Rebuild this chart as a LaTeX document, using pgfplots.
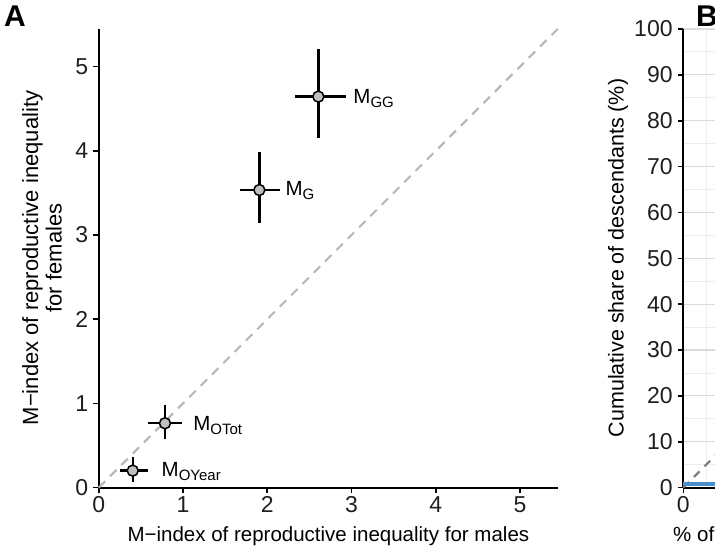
\documentclass[border=0pt]{standalone}
\usepackage{fontspec}
\setmainfont{Liberation Sans}
\usepackage{pgfplots}
\usepackage{pgfplotstable}
\pgfplotsset{compat=1.18}

\definecolor{markfill}{HTML}{BFBFBF}
\definecolor{diagA}{HTML}{B5B5B5}
\definecolor{diagB}{HTML}{7A7A7A}
\definecolor{curveblue}{HTML}{4A8FC9}
\definecolor{gridmaj}{HTML}{DADADA}
\definecolor{gridmin}{HTML}{EDEDED}

% M-index estimates with asymmetric intervals (minus / plus)
\pgfplotstableread{
x     y     xm    xp    ym    yp
2.606 4.643 0.277 0.325 0.487 0.562
1.906 3.534 0.229 0.246 0.388 0.448
0.786 0.764 0.198 0.199 0.187 0.217
0.403 0.201 0.151 0.185 0.131 0.159
}\mindex

\newcommand{\ticksize}{\fontsize{23}{27}\selectfont}
\newcommand{\labsize}{\fontsize{20.5}{24.5}\selectfont}
\newcommand{\ylabsize}{\fontsize{22}{23.5}\selectfont}
\newcommand{\Mlab}[1]{{\fontsize{20.5}{23}\selectfont M\raisebox{-4pt}{\fontsize{15}{17}\selectfont #1}}}

\pgfplotsset{
  panel/.style={
    scale only axis,
    axis lines*=left,
    axis line style={line width=2pt, black, -},
    tick align=outside,
    major tick length=5.5pt,
    minor tick length=0pt,
    tick style={line width=1.6pt, black},
    ticklabel style={font=\ticksize, text=black!88},
    /pgf/number format/assume math mode=true,
    clip=false,
  },
}

\begin{document}
\begin{tikzpicture}
\useasboundingbox (0pt,0pt) rectangle (715pt,550pt);
\begin{scope}
\clip (0pt,0pt) rectangle (715pt,550pt);

% Panel A: female vs male reproductive inequality
\begin{axis}[panel,
  at={(98.75pt,62.4pt)}, anchor=south west,
  width=459.25pt, height=458.6pt,
  xmin=0, xmax=5.45, ymin=0, ymax=5.446,
  xtick={0,...,5}, ytick={0,...,5},
  xticklabel style={inner sep=2pt, yshift=-1pt},
  yticklabel style={inner sep=2pt, xshift=-3pt},
]
\addplot[diagA, line width=2pt, dash pattern=on 9pt off 7pt] coordinates {(0,0) (5.45,5.45)};
\addplot[only marks, mark=*, mark size=5.5pt,
  mark options={fill=markfill, draw=black, line width=1.5pt},
  error bars/.cd, x dir=both, y dir=both, x explicit, y explicit,
  error mark=none, error bar style={line width=2.4pt, black}]
  table[x=x, y=y, x error plus=xp, x error minus=xm,
        y error plus=yp, y error minus=ym] {\mindex};
\node[anchor=base west, inner sep=0] at (axis cs:3.020,4.564) {\Mlab{GG}};
\node[anchor=base west, inner sep=0] at (axis cs:2.215,3.469) {\Mlab{G}};
\node[anchor=base west, inner sep=0] at (axis cs:1.120,0.676) {\Mlab{OTot}};
\node[anchor=base west, inner sep=0] at (axis cs:0.745,0.129) {\Mlab{OYear}};
\end{axis}

% axis titles of panel A
\node[anchor=base, inner sep=0, font=\labsize] at (328.4pt,9pt)
  {M−index of reproductive inequality for males};
\node[rotate=90, align=center, inner sep=0, font=\ylabsize] at (42pt,292pt)
  {M−index of reproductive inequality\\for females};

% Panel B: cumulative share of descendants
\begin{axis}[panel,
  at={(683.3pt,62.4pt)}, anchor=south west,
  width=458.6pt, height=458.6pt,
  xmin=0, xmax=100, ymin=0, ymax=100,
  xtick={0,10,...,100}, ytick={0,10,...,100},
  xticklabels={0},
  minor x tick num=1, minor y tick num=1,
  grid=both,
  major grid style={gridmaj, line width=1.1pt},
  minor grid style={gridmin, line width=0.9pt},
  xticklabel style={inner sep=2pt, yshift=-1pt},
  yticklabel style={inner sep=2pt, xshift=-3pt},
]
\addplot[diagB, line width=2pt, dash pattern=on 8pt off 7pt] coordinates {(0,0) (100,100)};
\addplot[curveblue, line width=3.5pt] coordinates {(0,0.8) (4,0.8) (8,0.8)};
\end{axis}
\node[rotate=90, inner sep=0, font=\fontsize{21.5}{24}\selectfont] at (618pt,292pt)
  {Cumulative share of descendants (\%)};
\node[anchor=base west, inner sep=0, font=\labsize] at (673pt,9pt) {\% of individuals};

\node[anchor=base west, inner sep=0, font=\fontsize{30}{32}\selectfont\bfseries] at (4pt,523pt) {A};
\node[anchor=base west, inner sep=0, font=\fontsize{30}{32}\selectfont\bfseries] at (696pt,523pt) {B};
\end{scope}
\end{tikzpicture}
\end{document}
